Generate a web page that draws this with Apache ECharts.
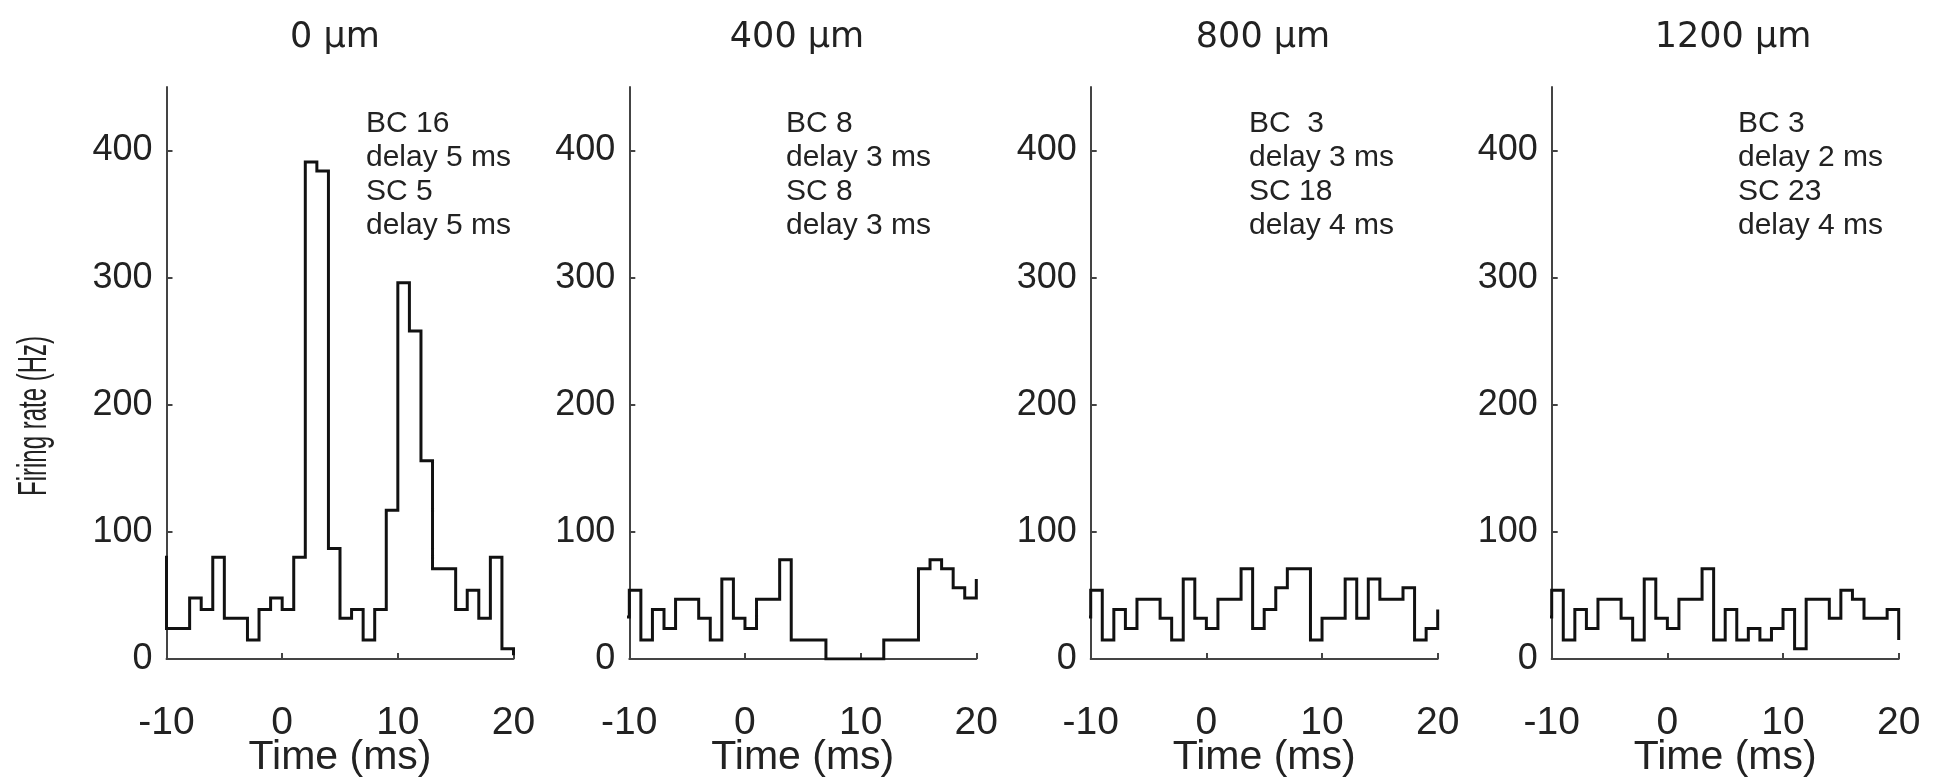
<!DOCTYPE html>
<html lang="en">
<head>
<meta charset="utf-8">
<title>Firing rate at 0-1200 µm</title>
<script src="https://cdn.jsdelivr.net/npm/echarts@6.0.0/dist/echarts.min.js"></script>
<style>
    html, body { margin: 0; padding: 0; background: #fff; }
    #chart { width: 1939px; height: 779px; }
</style>
</head>
<body>
<div id="chart"></div>
<script>
    // bin start times (ms), each rate covers [t, t+1)
    const binStarts = [-11, -10, -9, -8, -7, -6, -5, -4, -3, -2, -1, 0, 1, 2, 3, 4,
                       5, 6, 7, 8, 9, 10, 11, 12, 13, 14, 15, 16, 17, 18, 19, 20];

    const panelTitles = ['0 µm', '400 µm', '800 µm', '1200 µm'];
    const panelNotes = [
        ['BC 16', 'delay 5 ms', 'SC 5', 'delay 5 ms'],
        ['BC 8', 'delay 3 ms', 'SC 8', 'delay 3 ms'],
        ['BC  3', 'delay 3 ms', 'SC 18', 'delay 4 ms'],
        ['BC 3', 'delay 2 ms', 'SC 23', 'delay 4 ms']
    ];

    // firing rate (Hz) per bin
    const rate0 = [80, 24, 24, 48, 39, 80, 32, 32, 15, 39, 48, 39, 80, 391, 384, 87,
                   32, 39, 15, 39, 117, 296, 258, 156, 71, 71, 39, 54, 32, 80, 8, 3];
    const rate400 = [33, 54, 15, 39, 24, 47, 47, 32, 15, 63, 32, 24, 47, 47, 78, 15,
                     15, 15, 0, 0, 0, 0, 0, 15, 15, 15, 71, 78, 71, 56, 48, 63];
    const rate800 = [33, 54, 15, 39, 24, 47, 47, 32, 15, 63, 32, 24, 47, 47, 71, 24,
                     39, 56, 71, 71, 15, 32, 32, 63, 32, 63, 47, 47, 56, 15, 24, 39];
    const rate1200 = [33, 54, 15, 39, 24, 47, 47, 32, 15, 63, 32, 24, 47, 47, 71, 15,
                      39, 15, 24, 15, 24, 39, 8, 47, 47, 32, 54, 47, 32, 32, 39, 15];

    const xTicks = [-10, 0, 10, 20];
    const yTicks = [0, 100, 200, 300, 400];

    const rates = [rate0, rate400, rate800, rate1200];

    // layout (px)
    const gridLeft = [166.5, 629.3, 1090.7, 1551.7];
    const gridTop = 87, gridW = 347, gridH = 572;
    const titleX = [335, 797, 1263, 1733];
    const noteX = [366, 786, 1249, 1738];

    const textColor = '#222';
    const font = 'Liberation Sans, Arial, sans-serif';
    const axisStyle = { color: '#444', width: 2 };

    const chart = echarts.init(document.getElementById('chart'));

    const grids = [], xAxes = [], yAxes = [], series = [], graphics = [];

    rates.forEach(function(r, i) {
        grids.push({
            left: gridLeft[i], top: gridTop, width: gridW, height: gridH,
            containLabel: false, outerBoundsMode: 'none'
        });

        xAxes.push({
            gridIndex: i, type: 'value', min: -10, max: 20, interval: 10,
            name: 'Time (ms)', nameLocation: 'middle', nameGap: 78, nameMoveOverlap: false,
            nameTextStyle: { fontSize: 41, color: textColor, fontFamily: font },
            axisLine: { onZero: false, lineStyle: axisStyle },
            axisTick: { inside: true, length: 6, lineStyle: axisStyle, customValues: xTicks },
            axisLabel: { margin: 45, fontSize: 39, color: textColor, fontFamily: font, customValues: xTicks },
            splitLine: { show: false }
        });

        yAxes.push({
            gridIndex: i, type: 'value', min: 0, max: 450,
            axisLine: { show: true, onZero: false, lineStyle: axisStyle },
            axisTick: { show: true, inside: true, length: 6, lineStyle: axisStyle, customValues: yTicks },
            axisLabel: { margin: 14, fontSize: 36, color: textColor, fontFamily: font, customValues: yTicks },
            splitLine: { show: false }
        });

        series.push({
            type: 'line', xAxisIndex: i, yAxisIndex: i, step: 'end',
            showSymbol: false, clip: true,
            data: binStarts.map(function(t, k) { return [t, r[k]]; }),
            lineStyle: { color: '#111', width: 3, join: 'miter', cap: 'butt' }
        });

        graphics.push({
            type: 'text', x: titleX[i], y: 38,
            style: {
                text: panelTitles[i], fontSize: 35, fontFamily: 'DejaVu Sans', fill: textColor,
                align: 'center', verticalAlign: 'middle', textAlign: 'center', textVerticalAlign: 'middle'
            }
        });

        graphics.push({
            type: 'text', x: noteX[i], y: 107,
            style: {
                text: panelNotes[i].join('\n'), fontSize: 30, lineHeight: 34, fontFamily: font, fill: textColor,
                align: 'left', verticalAlign: 'top', textAlign: 'left', textVerticalAlign: 'top'
            }
        });
    });

    // y axis name, squeezed along its length like the original
    graphics.push({
        type: 'text', x: 35, y: 416, rotation: Math.PI / 2, scaleX: 0.6,
        style: {
            text: 'Firing rate (Hz)', fontSize: 40, fontFamily: font, fill: textColor,
            align: 'center', verticalAlign: 'middle', textAlign: 'center', textVerticalAlign: 'middle'
        }
    });

    chart.setOption({
        animation: false,
        grid: grids,
        xAxis: xAxes,
        yAxis: yAxes,
        series: series,
        graphic: graphics
    });

    window.addEventListener('resize', function() {
        chart.resize();
    });
</script>
</body>
</html>
